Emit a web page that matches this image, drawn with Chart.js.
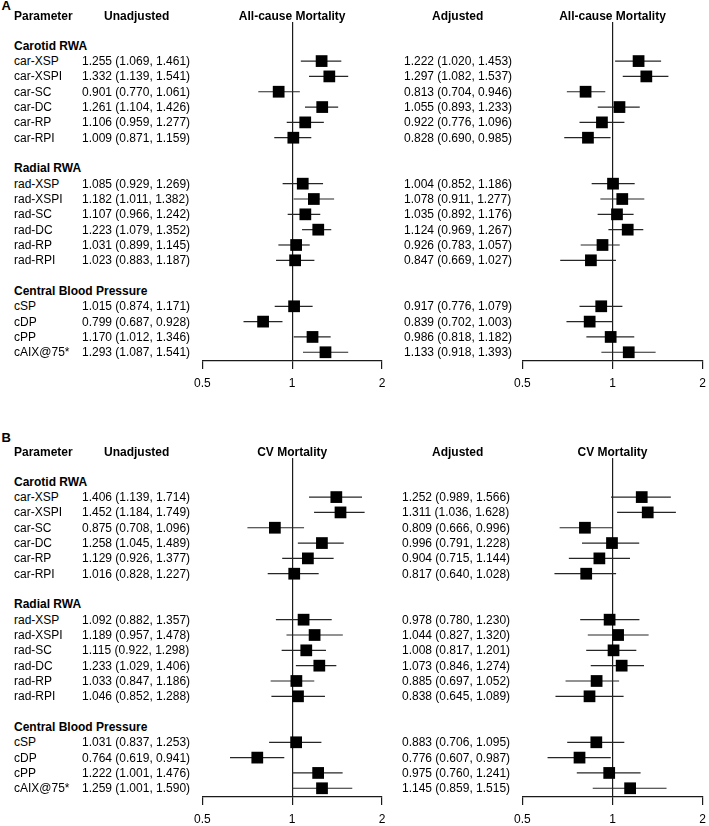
<!DOCTYPE html>
<html><head><meta charset="utf-8">
<script src="https://cdn.jsdelivr.net/npm/chart.js@4/dist/chart.umd.min.js"></script>
<style>
html,body{margin:0;padding:0;background:#fff;}
#root{position:relative;width:709px;height:826px;overflow:hidden;background:#fff;font-family:'Liberation Sans',Arial,sans-serif;color:#000;}
.panel{position:absolute;left:0;width:709px;height:400px;}
.t{position:absolute;font-size:12px;line-height:14px;white-space:nowrap;}
.b{font-weight:bold;}
.L{font-size:13px;font-weight:bold;}
canvas{position:absolute;top:0;}
</style></head>
<body><div id="root"></div>
<script>
// ---------- data ----------
const panelLetters = ['A', 'B'];
const outcomeTitles = ['All-cause Mortality', 'CV Mortality'];
const columnTitles = ['Parameter', 'Unadjusted', 'Adjusted'];
const groupNames = ['Carotid RWA', 'Radial RWA', 'Central Blood Pressure'];
const groupSizes = [6, 6, 4];
const parameters = ['car-XSP','car-XSPI','car-SC','car-DC','car-RP','car-RPI',
  'rad-XSP','rad-XSPI','rad-SC','rad-DC','rad-RP','rad-RPI',
  'cSP','cDP','cPP','cAIX@75*'];
const xTicks = [0.5, 1, 2];

// A: All-cause mortality, unadjusted
const allUnadjHR = [1.255,1.332,0.901,1.261,1.106,1.009,1.085,1.182,1.107,1.223,1.031,1.023,1.015,0.799,1.170,1.293];
const allUnadjLo = [1.069,1.139,0.770,1.104,0.959,0.871,0.929,1.011,0.966,1.079,0.899,0.883,0.874,0.687,1.012,1.087];
const allUnadjHi = [1.461,1.541,1.061,1.426,1.277,1.159,1.269,1.382,1.242,1.352,1.145,1.187,1.171,0.928,1.346,1.541];
// A: All-cause mortality, adjusted
const allAdjHR = [1.222,1.297,0.813,1.055,0.922,0.828,1.004,1.078,1.035,1.124,0.926,0.847,0.917,0.839,0.986,1.133];
const allAdjLo = [1.020,1.082,0.704,0.893,0.776,0.690,0.852,0.911,0.892,0.969,0.783,0.669,0.776,0.702,0.818,0.918];
const allAdjHi = [1.453,1.537,0.946,1.233,1.096,0.985,1.186,1.277,1.176,1.267,1.057,1.027,1.079,1.003,1.182,1.393];
// B: CV mortality, unadjusted
const cvUnadjHR = [1.406,1.452,0.875,1.258,1.129,1.016,1.092,1.189,1.115,1.233,1.033,1.046,1.031,0.764,1.222,1.259];
const cvUnadjLo = [1.139,1.184,0.708,1.045,0.926,0.828,0.882,0.957,0.922,1.029,0.847,0.852,0.837,0.619,1.001,1.001];
const cvUnadjHi = [1.714,1.749,1.096,1.489,1.377,1.227,1.357,1.478,1.298,1.406,1.186,1.288,1.253,0.941,1.476,1.590];
// B: CV mortality, adjusted
const cvAdjHR = [1.252,1.311,0.809,0.996,0.904,0.817,0.978,1.044,1.008,1.073,0.885,0.838,0.883,0.776,0.975,1.145];
const cvAdjLo = [0.989,1.036,0.666,0.791,0.715,0.640,0.780,0.827,0.817,0.846,0.697,0.645,0.706,0.607,0.760,0.859];
const cvAdjHi = [1.566,1.628,0.996,1.228,1.144,1.028,1.230,1.320,1.201,1.274,1.052,1.089,1.095,0.987,1.241,1.515];

// ---------- row layout (group header, members, blank row) ----------
const rowK = [], headerK = [];
(function(){ let k = 0; groupSizes.forEach(n => { headerK.push(k++); for (let i = 0; i < n; i++) rowK.push(k++); k++; }); })();

// ---------- layout constants ----------
const PANEL_TOP = [0, 436];
const LETTER_Y = [6, 2];
const HEADER_Y = 15.7;
const PARAM_X = 14, UNADJ_X = 82, UNADJ_HEAD_X = 104, ADJ_HEAD_X = 432;
const ADJ_TEXT_X = [404, 402];
const FORESTS = [{left:187, width:210, padL:15, padR:15}, {left:507, width:206, padL:15, padR:10}];

const root = document.getElementById('root');
function addText(parent, str, x, y, cls, center) {
  const d = document.createElement('div');
  d.className = 't ' + (cls || '');
  d.textContent = str;
  d.style.left = x + 'px';
  d.style.top = (y - 7) + 'px';
  if (center) d.style.transform = 'translateX(-50%)';
  parent.appendChild(d);
  return d;
}
const fmt = v => v.toFixed(3);
const ciText = (hr, lo, hi, i) => fmt(hr[i]) + ' (' + fmt(lo[i]) + ', ' + fmt(hi[i]) + ')';

function makeForest(parent, geo, hr, lo, hi) {
  const c = document.createElement('canvas');
  c.width = geo.width; c.height = 400;
  c.style.left = geo.left + 'px';
  c.style.width = geo.width + 'px'; c.style.height = '400px';
  parent.appendChild(c);
  const datasets = [{
    data: hr.map((v, i) => ({x: v, y: rowK[i]})),
    pointStyle: 'rect', pointRadius: 8.3, pointHoverRadius: 8.3,
    backgroundColor: '#000', borderWidth: 0, pointBorderWidth: 0, showLine: false, clip: false
  }];
  hr.forEach((v, i) => datasets.push({
    data: [{x: lo[i], y: rowK[i]}, {x: hi[i], y: rowK[i]}],
    showLine: true, borderColor: '#262626', borderWidth: 1.2,
    pointRadius: 0, pointHoverRadius: 0, fill: false, clip: false
  }));
  return new Chart(c, {
    type: 'scatter',
    data: {datasets},
    options: {
      responsive: false, animation: false, events: [], devicePixelRatio: 1,
      layout: {padding: {left: geo.padL, right: geo.padR, top: 22, bottom: 0}},
      plugins: {legend: {display: false}, tooltip: {enabled: false}},
      scales: {
        x: {
          type: 'logarithmic', min: 0.5, max: 2, position: 'bottom',
          afterBuildTicks: s => { s.ticks = xTicks.map(v => ({value: v})); },
          afterFit: s => { s.height = 39; },
          grid: {
            drawOnChartArea: true, drawTicks: true, tickLength: 8, lineWidth: 1.2,
            color: ctx => (ctx.tick && ctx.tick.value === 1) ? '#1a1a1a' : 'rgba(0,0,0,0)',
            tickColor: '#1a1a1a', tickWidth: 1.2
          },
          border: {display: true, color: '#1a1a1a', width: 1.2},
          ticks: {
            color: '#000', padding: 7, maxRotation: 0, autoSkip: false,
            font: {family: 'Liberation Sans', size: 12},
            callback: v => String(v)
          }
        },
        y: {type: 'linear', display: false, reverse: true, min: -1.55, max: 20.57}
      }
    }
  });
}

const panelSeries = [
  [[allUnadjHR, allUnadjLo, allUnadjHi], [allAdjHR, allAdjLo, allAdjHi]],
  [[cvUnadjHR, cvUnadjLo, cvUnadjHi], [cvAdjHR, cvAdjLo, cvAdjHi]]
];

panelLetters.forEach((letter, p) => {
  const panel = document.createElement('div');
  panel.className = 'panel';
  panel.style.top = PANEL_TOP[p] + 'px';
  root.appendChild(panel);

  const charts = panelSeries[p].map((s, j) => makeForest(panel, FORESTS[j], s[0], s[1], s[2]));
  const yPix = k => charts[0].scales.y.getPixelForValue(k);
  const oneX = j => FORESTS[j].left + charts[j].scales.x.getPixelForValue(1);

  addText(panel, letter, 1.5, LETTER_Y[p], 'L');
  addText(panel, columnTitles[0], PARAM_X, HEADER_Y, 'b');
  addText(panel, columnTitles[1], UNADJ_HEAD_X, HEADER_Y, 'b');
  addText(panel, columnTitles[2], ADJ_HEAD_X, HEADER_Y, 'b');
  addText(panel, outcomeTitles[p], oneX(0), HEADER_Y, 'b', true);
  addText(panel, outcomeTitles[p], oneX(1), HEADER_Y, 'b', true);

  groupNames.forEach((g, gi) => addText(panel, g, PARAM_X, yPix(headerK[gi]), 'b'));
  const [u, a] = panelSeries[p];
  parameters.forEach((name, i) => {
    const y = yPix(rowK[i]);
    addText(panel, name, PARAM_X, y);
    addText(panel, ciText(u[0], u[1], u[2], i), UNADJ_X, y);
    addText(panel, ciText(a[0], a[1], a[2], i), ADJ_TEXT_X[p], y);
  });
});
</script>
</body></html>
